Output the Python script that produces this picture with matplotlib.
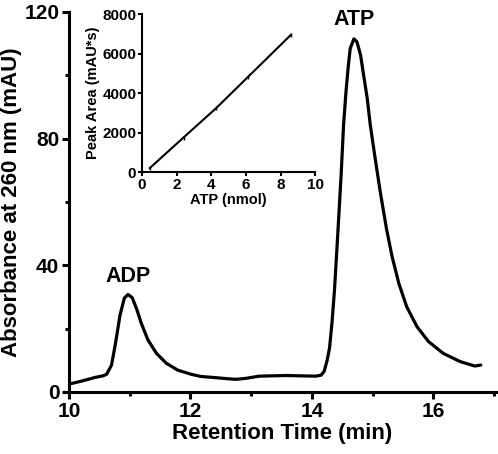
import numpy as np
import matplotlib.pyplot as plt
from matplotlib.ticker import MultipleLocator

plt.rcParams['font.family'] = ['Liberation Sans', 'DejaVu Sans']
plt.rcParams['font.weight'] = 'bold'

# === prepare data ===
# chromatogram (retention time in min, absorbance in mAU)
time = [10.0, 10.2, 10.43, 10.56, 10.62, 10.70, 10.77, 10.84, 10.91, 10.97,
        11.04, 11.11, 11.19, 11.30, 11.44, 11.60, 11.79, 12.01, 12.17, 12.37,
        12.6, 12.75, 12.91, 13.13, 13.57, 14.06, 14.15, 14.20, 14.25, 14.29,
        14.33, 14.37, 14.41, 14.44, 14.48, 14.52, 14.56, 14.60, 14.63, 14.69,
        14.74, 14.80, 14.85, 14.91, 14.96, 15.04, 15.13, 15.23, 15.32, 15.43,
        15.56, 15.73, 15.92, 16.16, 16.44, 16.68, 16.78]
absorb = [2.5, 3.4, 4.6, 5.1, 5.6, 8.5, 15.9, 24.3, 29.6, 30.8,
          29.8, 26.4, 21.7, 16.4, 12.2, 9.1, 6.9, 5.6, 4.9, 4.6,
          4.2, 4.0, 4.3, 5.0, 5.2, 5.0, 5.3, 6.5, 10.0, 14.0,
          22.0, 32.0, 45.0, 55.0, 68.5, 84.3, 94.8, 103.3, 108.5, 111.5,
          110.6, 106.4, 100.1, 92.7, 84.3, 73.8, 62.5, 51.2, 42.7, 34.3,
          26.9, 20.6, 15.9, 12.2, 9.6, 8.2, 8.5]

peak_names = ['ADP', 'ATP']
peak_time = [10.97, 14.69]
peak_label_y = [36.5, 117.5]

# calibration inset
atp_nmol = [0.45, 2.4, 4.3, 6.1, 8.6]
peak_area = [200, 1750, 3250, 4800, 6950]

# === plot data ===
fig = plt.figure(figsize=(4.98, 4.54), dpi=100)
ax = fig.add_axes([0.1386, 0.1366, 0.8574, 0.837])
ax.plot(time, absorb, color='black', lw=2.3, solid_joinstyle='round',
        solid_capstyle='round')
for name, t, y in zip(peak_names, peak_time, peak_label_y):
    ax.text(t, y, name, ha='center', va='center', fontsize=15.5, fontweight='bold')

ax.set_xlim(10, 17.03)
ax.set_ylim(0, 120)
ax.xaxis.set_major_locator(MultipleLocator(2))
ax.xaxis.set_minor_locator(MultipleLocator(1))
ax.yaxis.set_major_locator(MultipleLocator(40))
ax.yaxis.set_minor_locator(MultipleLocator(20))
for s in ['top', 'right']:
    ax.spines[s].set_visible(False)
for s in ['left', 'bottom']:
    ax.spines[s].set_linewidth(2.2)
ax.tick_params(which='major', width=2.2, length=5, labelsize=15, pad=2)
ax.tick_params(which='minor', width=2.2, length=3)
for lab in ax.get_xticklabels() + ax.get_yticklabels():
    lab.set_fontweight('bold')
ax.set_xlabel('Retention Time (min)', fontsize=16, fontweight='bold', labelpad=2)
ax.set_ylabel('Absorbance at 260 nm (mAU)', fontsize=16, fontweight='bold', labelpad=2)

# inset
ins = fig.add_axes([0.285, 0.621, 0.348, 0.348])
ins.plot(atp_nmol, peak_area, color='black', lw=1.5, marker='|', ms=3, mew=1)
ins.set_xlim(0, 10)
ins.set_ylim(0, 8000)
ins.xaxis.set_major_locator(MultipleLocator(2))
ins.yaxis.set_major_locator(MultipleLocator(2000))
for s in ['top', 'right']:
    ins.spines[s].set_visible(False)
for s in ['left', 'bottom']:
    ins.spines[s].set_linewidth(1.5)
ins.tick_params(width=1.5, length=3, labelsize=11, pad=1)
for lab in ins.get_xticklabels() + ins.get_yticklabels():
    lab.set_fontweight('bold')
ins.set_xlabel('ATP (nmol)', fontsize=10.5, fontweight='bold', labelpad=1)
ins.set_ylabel('Peak Area (mAU*s)', fontsize=10.5, fontweight='bold', labelpad=2)

fig.savefig('out.png', dpi=100)
